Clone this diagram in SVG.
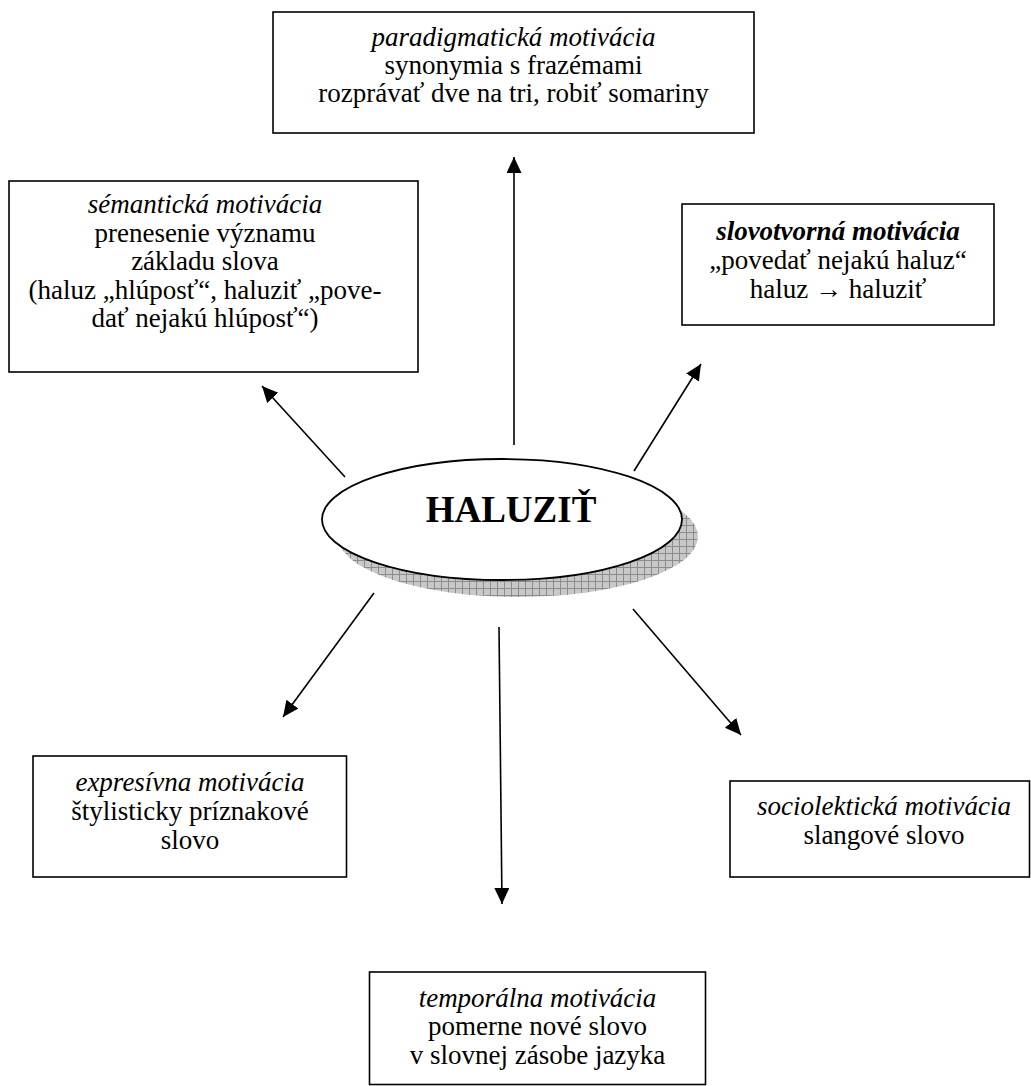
<svg xmlns="http://www.w3.org/2000/svg" width="1031" height="1086" viewBox="0 0 1031 1086">
<style>
.box{fill:#fff;stroke:#000;stroke-width:1.6}
.t{font-family:"Liberation Serif","Times New Roman",serif;font-size:27px;fill:#000;text-anchor:middle}
.i{font-style:italic}
.b{font-weight:bold}
.conn line{stroke:#000;stroke-width:1.6;fill:none;marker-end:url(#ah)}
</style>
<defs>
<marker id="ah" markerUnits="userSpaceOnUse" markerWidth="17" markerHeight="16" refX="16" refY="7.5" orient="auto">
<path d="M0,0 L16,7.5 L0,15 z" fill="#000"/>
</marker>
<pattern id="hatch" patternUnits="userSpaceOnUse" width="7" height="7">
<rect width="7" height="7" fill="#c8c8c8"/>
<path d="M0,0.5 H7 M0.5,0 V7" stroke="#8c8c8c" stroke-width="1"/>
</pattern>
</defs>
<rect width="1031" height="1086" fill="#fff"/>

<g id="connectors" class="conn">
<line x1="514" y1="445" x2="514" y2="157"/>
<line x1="345" y1="477" x2="262" y2="386"/>
<line x1="634" y1="471" x2="701" y2="364"/>
<line x1="374" y1="593" x2="283" y2="717"/>
<line x1="499" y1="627" x2="502" y2="904"/>
<line x1="633" y1="609" x2="741" y2="735"/>
</g>

<g id="center">
<ellipse cx="518" cy="536.5" rx="180" ry="60.5" fill="url(#hatch)"/>
<ellipse cx="502" cy="519.5" rx="180" ry="60.5" fill="#fff" stroke="#000" stroke-width="1.8"/>
<text class="t b" x="511" y="522" style="font-size:37px">HALUZIŤ</text>
</g>

<g id="paradigmaticka">
<rect class="box" x="273" y="12" width="481" height="121"/>
<text class="t i" x="513.5" y="45.5">paradigmatická motivácia</text>
<text class="t" x="513.5" y="74">synonymia s frazémami</text>
<text class="t" x="513.5" y="102">rozprávať dve na tri, robiť somariny</text>
</g>

<g id="semanticka">
<rect class="box" x="9" y="181" width="409" height="191"/>
<text class="t i" x="205" y="213">sémantická motivácia</text>
<text class="t" x="205" y="241.5">prenesenie významu</text>
<text class="t" x="205" y="270">základu slova</text>
<text class="t" x="205" y="298.5">(haluz „hlúposť“, haluziť „pove-</text>
<text class="t" x="205" y="327">dať nejakú hlúposť“)</text>
</g>

<g id="slovotvorna">
<rect class="box" x="682" y="204" width="312" height="121"/>
<text class="t i b" x="838" y="240">slovotvorná motivácia</text>
<text class="t" x="838" y="269">„povedať nejakú haluz“</text>
<text class="t" x="838" y="298">haluz → haluziť</text>
</g>

<g id="expresivna">
<rect class="box" x="33" y="756" width="313.5" height="121"/>
<text class="t i" x="190" y="790.5">expresívna motivácia</text>
<text class="t" x="190" y="820">štylisticky príznakové</text>
<text class="t" x="190" y="849">slovo</text>
</g>

<g id="sociolekticka">
<rect class="box" x="730" y="781" width="299.5" height="96"/>
<text class="t i" x="884" y="815">sociolektická motivácia</text>
<text class="t" x="884" y="843.5">slangové slovo</text>
</g>

<g id="temporalna">
<rect class="box" x="369.5" y="972" width="336" height="112.5"/>
<text class="t i" x="537.5" y="1006.5">temporálna motivácia</text>
<text class="t" x="537.5" y="1035">pomerne nové slovo</text>
<text class="t" x="537.5" y="1063.5">v slovnej zásobe jazyka</text>
</g>
</svg>
